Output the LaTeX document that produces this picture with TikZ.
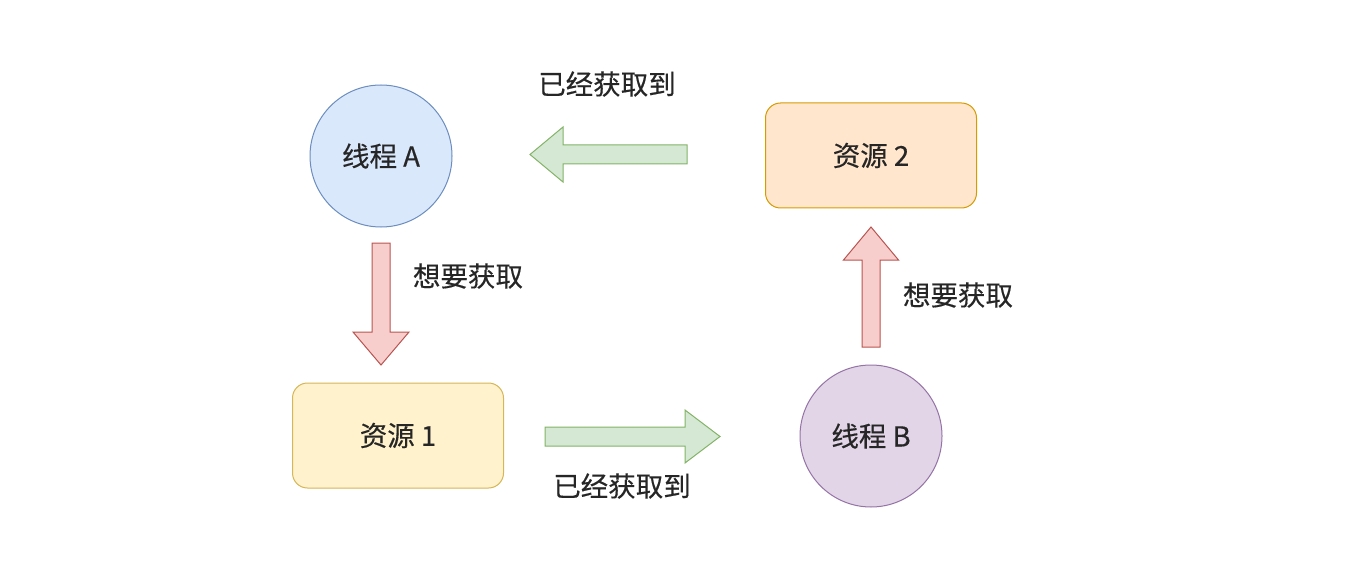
\documentclass[tikz,border=0pt]{standalone}
\usepackage{fontspec}
\setmainfont[FakeBold=0.4]{Noto Sans CJK SC}
\begin{document}
\begin{tikzpicture}[x=1pt,y=-1pt,
  lbl/.style={font=\fontsize{27.5}{32}\selectfont, text=black!85},
  thread/.style={circle, draw, line width=1pt, minimum size=142pt, inner sep=0pt, lbl},
  res/.style={rectangle, rounded corners=15pt, draw, line width=1pt, minimum width=211pt, minimum height=105pt, inner sep=0pt, lbl},
  greenarrow/.style={fill=arrgfill, draw=arrgdraw, line width=1pt, line join=miter},
  redarrow/.style={fill=arrrfill, draw=arrrdraw, line width=1pt, line join=miter}]
\definecolor{bluefill}{HTML}{DAE8FC}\definecolor{bluedraw}{HTML}{6C8EBF}
\definecolor{purplefill}{HTML}{E1D5E7}\definecolor{purpledraw}{HTML}{9673A6}
\definecolor{yelfill}{HTML}{FFF2CC}\definecolor{yeldraw}{HTML}{D6B656}
\definecolor{orfill}{HTML}{FFE6CC}\definecolor{ordraw}{HTML}{D79B00}
\definecolor{arrgfill}{HTML}{D5E8D4}\definecolor{arrgdraw}{HTML}{82B366}
\definecolor{arrrfill}{HTML}{F8CECC}\definecolor{arrrdraw}{HTML}{B85450}
\useasboundingbox (0,0) rectangle (1346,580);

\node[thread, fill=bluefill, draw=bluedraw] (tA) at (381,156) {线程 A};
\node[thread, fill=purplefill, draw=purpledraw] (tB) at (871,436) {线程 B};
\node[res, fill=yelfill, draw=yeldraw] (r1) at (398,435.5) {资源 1};
\node[res, fill=orfill, draw=ordraw] (r2) at (871,155.5) {资源 2};

% green arrow: resource 2 -> thread A (left)
\draw[greenarrow] (687,145) -- (563,145) -- (563,127) -- (530,154.5) -- (563,182) -- (563,164) -- (687,164) -- cycle;
% red arrow: thread A -> resource 1 (down)
\draw[redarrow] (372,243) -- (372,332) -- (353,332) -- (381,365) -- (409,332) -- (390,332) -- (390,243) -- cycle;
% green arrow: resource 1 -> thread B (right)
\draw[greenarrow] (545,427) -- (685,427) -- (685,410) -- (720,436.5) -- (685,463) -- (685,446) -- (545,446) -- cycle;
% red arrow: thread B -> resource 2 (up)
\draw[redarrow] (862,347) -- (862,260) -- (843.5,260) -- (871,227) -- (898.5,260) -- (880,260) -- (880,347) -- cycle;

\node[lbl] (l1) at (607,84) {已经获取到};
\node[lbl] (l2) at (468,276) {想要获取};
\node[lbl] (l3) at (622,486) {已经获取到};
\node[lbl] (l4) at (958,295) {想要获取};
\end{tikzpicture}
\end{document}
